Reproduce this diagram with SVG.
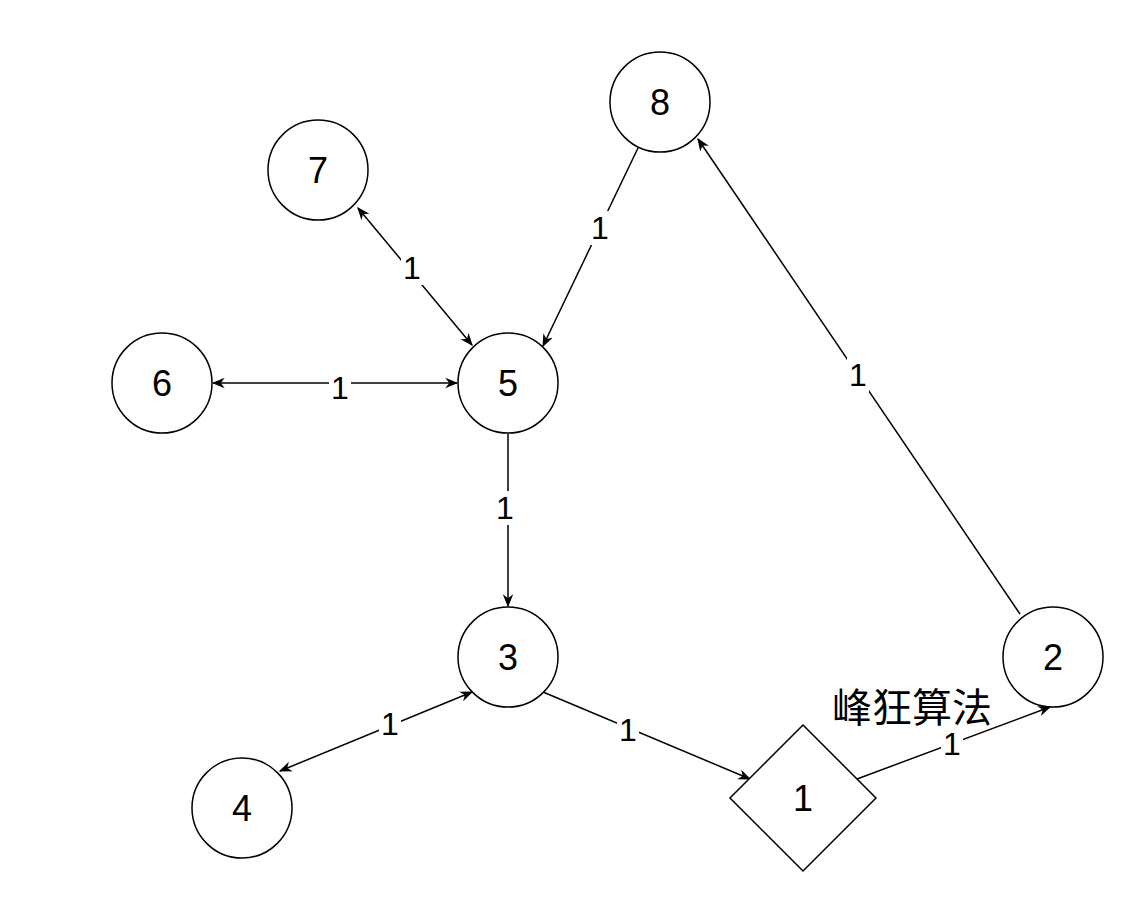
<svg xmlns="http://www.w3.org/2000/svg" width="1141" height="898" viewBox="0 0 1141 898">
<style>
.n{fill:#fff;stroke:#000;stroke-width:1.5}
.t{font-family:"Liberation Sans",Arial,sans-serif;font-size:36px;text-anchor:middle;dominant-baseline:central}
.e{stroke:#000;stroke-width:1.5;fill:none}
.l{font-family:"Liberation Sans",Arial,sans-serif;font-size:32px;text-anchor:middle;dominant-baseline:central}
.bg{fill:#fff}
</style>
<defs>
<marker id="a" viewBox="0 0 10 10" refX="9" refY="5" markerWidth="13" markerHeight="13" markerUnits="userSpaceOnUse" orient="auto-start-reverse"><path d="M0,1 L10,5 L0,9 L3,5 Z" fill="#000"/></marker>
</defs>
<rect width="1141" height="898" fill="#fff"/>
<g id="connectors">
<line class="e" x1="358" y1="208" x2="472" y2="345" marker-start="url(#a)" marker-end="url(#a)"/>
<line class="e" x1="638" y1="148" x2="543" y2="346" marker-end="url(#a)"/>
<line class="e" x1="213" y1="383" x2="457" y2="383" marker-start="url(#a)" marker-end="url(#a)"/>
<line class="e" x1="508" y1="434" x2="508" y2="606" marker-end="url(#a)"/>
<line class="e" x1="543" y1="692" x2="750" y2="779" marker-end="url(#a)"/>
<line class="e" x1="280" y1="771" x2="472" y2="692" marker-start="url(#a)" marker-end="url(#a)"/>
<line class="e" x1="857" y1="779" x2="1050" y2="707" marker-end="url(#a)"/>
<line class="e" x1="1020" y1="614" x2="698" y2="139" marker-end="url(#a)"/>
<rect class="bg" x="401" y="251" width="22" height="34"/><text class="l" x="412" y="268">1</text>
<rect class="bg" x="589" y="211" width="22" height="34"/><text class="l" x="600" y="228">1</text>
<rect class="bg" x="329" y="371" width="22" height="34"/><text class="l" x="340" y="388">1</text>
<rect class="bg" x="494" y="491" width="22" height="34"/><text class="l" x="505" y="508">1</text>
<rect class="bg" x="617" y="713" width="22" height="34"/><text class="l" x="628" y="730">1</text>
<rect class="bg" x="379" y="707" width="22" height="34"/><text class="l" x="390" y="724">1</text>
<rect class="bg" x="941" y="727" width="22" height="34"/><text class="l" x="952" y="744">1</text>
<rect class="bg" x="847" y="358" width="22" height="34"/><text class="l" x="858" y="375">1</text>
</g>
<g id="n7"><circle class="n" cx="318" cy="170" r="50"/><text class="t" x="318" y="170">7</text></g>
<g id="n8"><circle class="n" cx="660" cy="102" r="50"/><text class="t" x="660" y="102">8</text></g>
<g id="n6"><circle class="n" cx="162" cy="383" r="50"/><text class="t" x="162" y="383">6</text></g>
<g id="n5"><circle class="n" cx="508" cy="383" r="50"/><text class="t" x="508" y="383">5</text></g>
<g id="n3"><circle class="n" cx="508" cy="657" r="50"/><text class="t" x="508" y="657">3</text></g>
<g id="n4"><circle class="n" cx="242" cy="808" r="50"/><text class="t" x="242" y="808">4</text></g>
<g id="n2"><circle class="n" cx="1053" cy="657" r="50"/><text class="t" x="1053" y="657">2</text></g>
<g id="n1"><path class="n" d="M803,725 L876,798 L803,871 L730,798 Z"/><text class="t" x="803" y="798">1</text></g>
<text x="912" y="705" style="font-family:'Noto Sans CJK SC',sans-serif;font-size:40px;text-anchor:middle;dominant-baseline:central">峰狂算法</text>
</svg>
